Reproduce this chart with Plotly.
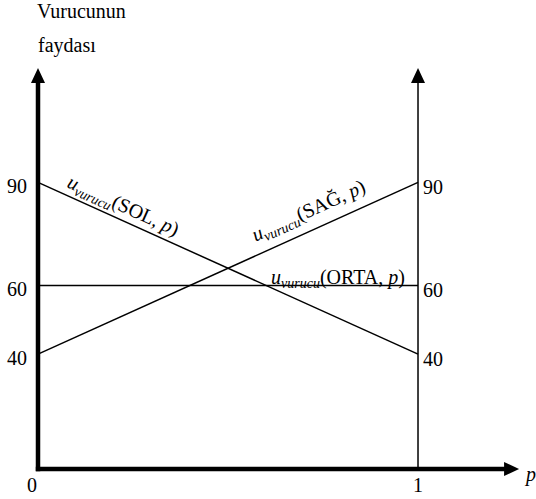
import math
import plotly.graph_objects as go

# ---- data ----
p_vals = [0, 1]
u_sol = [90, 40]
u_sag = [40, 90]
u_orta = [60, 60]
left_ticks = [90, 60, 40]
right_ticks = [90, 60, 40]
x_ticks = [0, 1]
x_tick_labels = ["0", "1"]
y_title_lines = ["Vurucunun", "faydası"]

W, H = 536, 499
X_RANGE = [-0.1, 1.3105]
Y_RANGE = [-2.19, 143.1]
PX_X = W / (X_RANGE[1] - X_RANGE[0])
PX_Y = H / (Y_RANGE[1] - Y_RANGE[0])

Y_BASE = 6.55     # where the horizontal axis sits
Y_TOP = 123.3     # tips of vertical arrows
X_END = 1.266     # tip of horizontal arrow
HEAD_L, HEAD_W = 15, 7

FONT = "Liberation Serif"
FS = 20

fig = go.Figure()

def add_line(xs, ys):
    fig.add_trace(go.Scatter(x=xs, y=ys, mode="lines",
                             line=dict(color="black", width=1.5),
                             hoverinfo="skip", showlegend=False))

add_line(p_vals, u_sol)
add_line(p_vals, u_sag)
add_line(p_vals, u_orta)

shapes = []
shapes.append(dict(type="line", x0=0, x1=0, y0=Y_BASE - 2.2 / PX_Y, y1=Y_TOP - (HEAD_L - 2) / PX_Y,
                   line=dict(color="black", width=4.5)))
shapes.append(dict(type="line", x0=0 - 2.2 / PX_X, x1=X_END - (HEAD_L - 2) / PX_X, y0=Y_BASE, y1=Y_BASE,
                   line=dict(color="black", width=4.5)))
shapes.append(dict(type="line", x0=1, x1=1, y0=Y_BASE, y1=Y_TOP - (HEAD_L - 2) / PX_Y,
                   line=dict(color="black", width=1.5)))
for xa in (0, 1):
    shapes.append(dict(type="path", xsizemode="pixel", ysizemode="pixel", xanchor=xa, yanchor=Y_TOP,
                       path=f"M {-HEAD_W} {-HEAD_L} L {HEAD_W} {-HEAD_L} L 0 0 Z",
                       fillcolor="black", line=dict(color="black", width=0)))
shapes.append(dict(type="path", xsizemode="pixel", ysizemode="pixel", xanchor=X_END, yanchor=Y_BASE,
                   path=f"M {-HEAD_L} {-HEAD_W} L {-HEAD_L} {HEAD_W} L 0 0 Z",
                   fillcolor="black", line=dict(color="black", width=0)))

ann = []
def txt(x, y, text, **kw):
    d = dict(x=x, y=y, text=text, showarrow=False, xref="x", yref="y",
             font=dict(family=FONT, size=FS, color="black"))
    d.update(kw)
    ann.append(d)

for v in left_ticks:
    txt(0, v, str(v), xanchor="right", yanchor="middle", xshift=-9, yshift=-4)
for v in right_ticks:
    txt(1, v, str(v), xanchor="left", yanchor="middle", xshift=3, yshift=-5)
for xv, lab in zip(x_ticks, x_tick_labels):
    txt(xv, Y_BASE, lab, xanchor="center", yanchor="middle", xshift=-6 if xv == 0 else 0, yshift=-16)
txt(X_END, Y_BASE, "<i>p</i>", xanchor="left", yanchor="middle", xshift=3, yshift=-6)

# second line of the y-axis title
txt(0, Y_TOP, y_title_lines[1], xanchor="center", yanchor="middle", xshift=29, yshift=23)

def angle(ys):
    dx = (p_vals[1] - p_vals[0]) * PX_X
    dy = (ys[1] - ys[0]) * PX_Y
    return -math.degrees(math.atan2(dy, dx))

sub = "<i>u</i><sub><i>vurucu</i></sub>"
txt(0.224, 83.1, sub + "(SOL, <i>p</i>)", textangle=angle(u_sol), xanchor="center", yanchor="middle")
txt(0.713, 81.4, sub + "(SAĞ, <i>p</i>)", textangle=angle(u_sag), xanchor="center", yanchor="middle")
txt(0.789, 61.9, sub + "(ORTA, <i>p</i>)", xanchor="center", yanchor="middle")

fig.update_layout(
    width=W, height=H, margin=dict(l=0, r=0, t=0, b=0),
    paper_bgcolor="white", plot_bgcolor="white",
    font=dict(family=FONT, size=FS, color="black"),
    title=dict(text=y_title_lines[0], xref="container", yref="container",
               x=37 / W, xanchor="left", y=1 - 11 / H, yanchor="middle",
               font=dict(family=FONT, size=FS, color="black")),
    xaxis=dict(range=X_RANGE, visible=False, fixedrange=True),
    yaxis=dict(range=Y_RANGE, visible=False, fixedrange=True),
    shapes=shapes, annotations=ann, showlegend=False,
)

fig.write_html("out.html", config={"displayModeBar": False},
               post_script="document.body.style.margin='0';document.body.style.overflow='hidden';")
